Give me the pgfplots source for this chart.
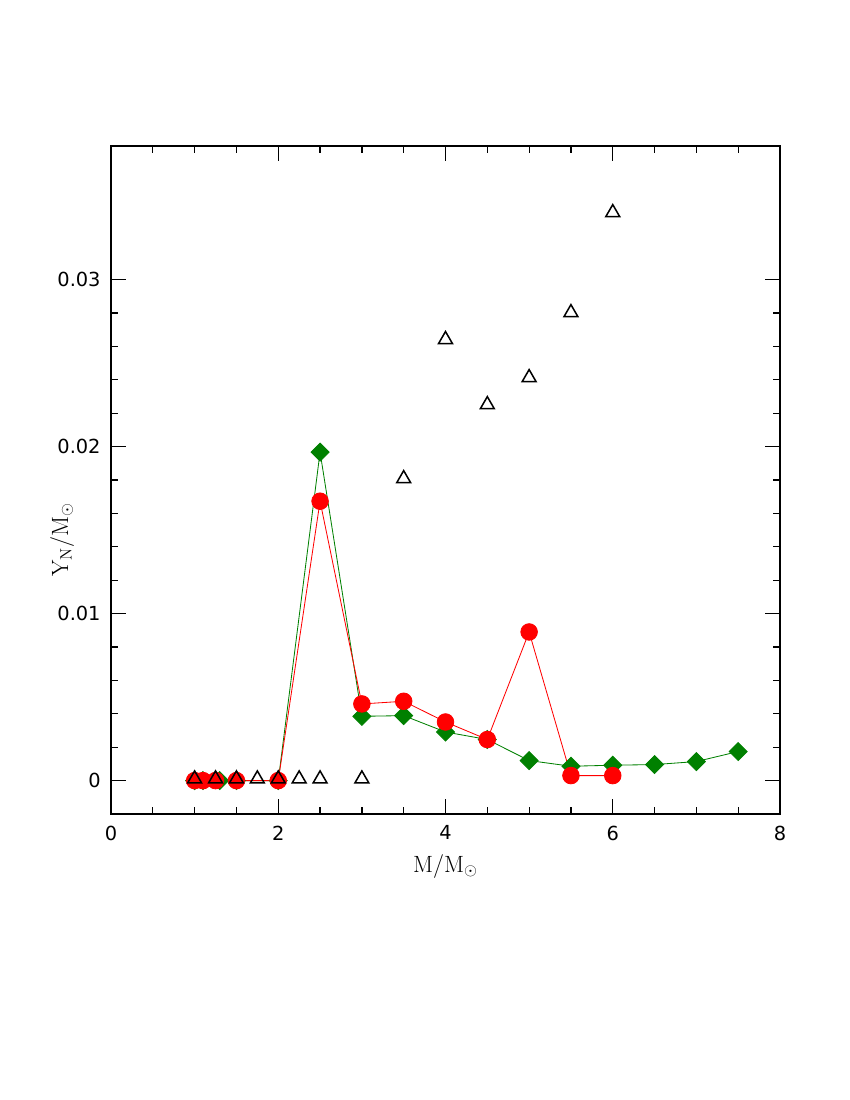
\documentclass[border=0pt]{standalone}
\usepackage{fontspec}
\usepackage{pgfplots}
\pgfplotsset{compat=1.18}
\newfontfamily\ticksf{DejaVu Sans}
\definecolor{mred}{rgb}{1,0,0}
\definecolor{mgreen}{rgb}{0,0.5,0}
\begin{document}
\begin{tikzpicture}
\useasboundingbox (0,0) rectangle (8.5in,11in);
\begin{axis}[
	at={(1.11in,2.86in)}, anchor=south west,
	scale only axis,
	width=6.69in, height=6.68in,
	xmin=0, xmax=8,
	ymin=-0.002, ymax=0.038,
	xtick={0,2,4,6,8},
	ytick={0,0.01,0.02,0.03},
	minor x tick num=3,
	minor y tick num=4,
	tick align=inside,
	major tick length=10.8pt,
	minor tick length=5.4pt,
	tick style={line width=0.9pt, black},
	axis line style={line width=1.1pt},
	/pgf/number format/assume math mode=true,
	xticklabel style={/pgf/number format/fixed, yshift=-5pt},
	yticklabel style={/pgf/number format/fixed, /pgf/number format/precision=2, xshift=-4pt},
	scaled y ticks=false,
	tick label style={font=\ticksf\fontsize{14}{16}\selectfont},
	label style={font=\fontsize{17}{20}\selectfont},
	xlabel={$\mathrm{M/M_\odot}$},
	ylabel={$\mathrm{Y_N/M_\odot}$},
	xlabel style={yshift=-3pt},
	ylabel style={at={(axis description cs:-0.073,0.41)}, anchor=center},
	clip=false,
	]
	% green diamonds
	\addplot[color=mgreen, line width=0.6pt, mark=square*, mark size=4.6pt,
		mark options={solid, rotate=45, fill=mgreen, draw=mgreen}]
		coordinates {(1.0,0)(1.1,0)(1.3,0)(1.5,0)(2.0,0)(2.5,0.01967)(3.0,0.00385)(3.5,0.00389)(4.0,0.00291)(4.5,0.00246)(5.0,0.0012)(5.5,0.00086)(6.0,0.00092)(6.5,0.00096)(7.0,0.00114)(7.5,0.00174)};
	% red circles
	\addplot[color=mred, line width=0.6pt, mark=*, mark size=6pt,
		mark options={solid, fill=mred, draw=mred}]
		coordinates {(1.0,0)(1.1,0)(1.25,0)(1.5,0)(2.0,0)(2.5,0.01673)(3.0,0.00459)(3.5,0.00475)(4.0,0.00351)(4.5,0.00246)(5.0,0.0089)(5.5,0.0003)(6.0,0.0003)};
	% open triangles
	\addplot[only marks, mark=triangle, mark size=5.8pt,
		mark options={line width=1.1pt, draw=black}]
		coordinates {(1.0,0.0001)(1.25,0.0001)(1.5,0.0001)(1.75,0.0001)(2.0,0.0001)(2.25,0.0001)(2.5,0.0001)(3.0,0.0001)(3.5,0.01808)(4.0,0.02641)(4.5,0.02251)(5.0,0.02413)(5.5,0.02802)(6.0,0.03401)};
\end{axis}
\end{tikzpicture}
\end{document}
